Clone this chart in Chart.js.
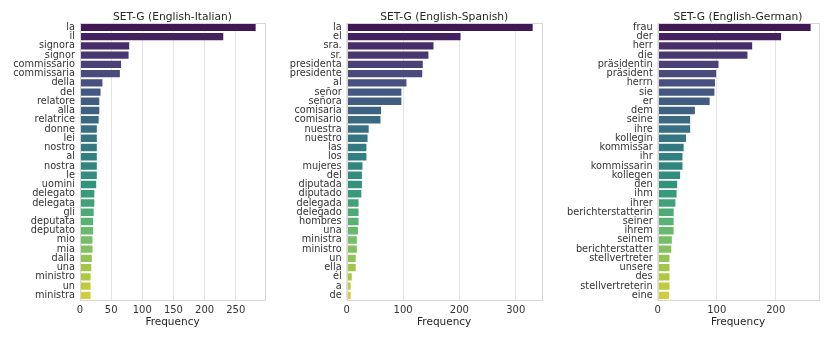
<!DOCTYPE html>
<html>
<head>
<meta charset="utf-8">
<script src="https://cdn.jsdelivr.net/npm/chart.js@4"></script>
<style>
  body { margin: 0; background: #fff; }
  #wrap { position: relative; width: 830px; height: 340px; }
  canvas { position: absolute; top: 0; }
</style>
</head>
<body>
<div id="wrap">
  <canvas id="itChart" style="left:0px"></canvas>
  <canvas id="esChart" style="left:276px"></canvas>
  <canvas id="deChart" style="left:550px"></canvas>
</div>
<script>
const itLabels = ["la","il","signora","signor","commissario","commissaria","della","del","relatore","alla","relatrice","donne","lei","nostro","al","nostra","le","uomini","delegato","delegata","gli","deputata","deputato","mio","mia","dalla","una","ministro","un","ministra"];
const itValues = [282,230,79,78,66,64,36,33,31,31,30,27,27,27,27,27,27,26,23,23,22,21,21,20,20,19,18,17,17,17];

const esLabels = ["la","el","sra.","sr.","presidenta","presidente","al","señor","señora","comisaria","comisario","nuestra","nuestro","las","los","mujeres","del","diputada","diputado","delegada","delegado","hombres","una","ministra","ministro","un","ella","él","a","de"];
const esValues = [330,202,154,145,135,134,106,97,97,61,60,39,37,35,35,28,27,27,26,21,21,21,20,18,18,16,16,9,7,7];

const deLabels = ["frau","der","herr","die","präsidentin","präsident","herrn","sie","er","dem","seine","ihre","kollegin","kommissar","ihr","kommissarin","kollegen","den","ihm","ihrer","berichterstatterin","seiner","ihrem","seinem","berichterstatter","stellvertreter","unsere","des","stellvertreterin","eine"];
const deValues = [259,209,160,152,103,99,97,96,88,63,55,55,48,44,42,42,38,33,32,30,27,27,27,24,23,20,20,20,20,19];

// viridis anchor colours, 0..1 in steps of 0.1
const viridis = ["#440154","#482475","#414487","#355f8d","#2a788e","#21918c","#22a884","#44bf70","#7ad151","#bddf26","#fde725"];

function hexRgb(h) {
  return [1,3,5].map(i => parseInt(h.substr(i,2),16)/255);
}
function desat(rgb, f) {
  // rgb -> hls, scale saturation, back
  const [r,g,b] = rgb;
  const mx = Math.max(r,g,b), mn = Math.min(r,g,b);
  const l = (mx+mn)/2;
  let h = 0, s = 0;
  if (mx !== mn) {
    const d = mx - mn;
    s = l > 0.5 ? d/(2-mx-mn) : d/(mx+mn);
    if (mx === r) h = ((g-b)/d) % 6;
    else if (mx === g) h = (b-r)/d + 2;
    else h = (r-g)/d + 4;
    h /= 6; if (h < 0) h += 1;
  }
  s *= f;
  const hue = t => {
    const q = l < 0.5 ? l*(1+s) : l+s-l*s, p = 2*l-q;
    if (t < 0) t += 1; if (t > 1) t -= 1;
    if (t < 1/6) return p+(q-p)*6*t;
    if (t < 1/2) return q;
    if (t < 2/3) return p+(q-p)*(2/3-t)*6;
    return p;
  };
  return [hue(h+1/3), hue(h), hue(h-1/3)];
}
function palette(n) {
  const out = [];
  for (let i = 1; i <= n; i++) {
    const t = i/(n+1) * 10;
    const k = Math.min(9, Math.floor(t)), f = t - k;
    const a = hexRgb(viridis[k]), b = hexRgb(viridis[k+1]);
    const c = desat(a.map((v,j) => v + (b[j]-v)*f), 0.75);
    out.push('rgb(' + c.map(v => Math.round(v*255)).join(',') + ')');
  }
  return out;
}

const frame = {
  id: 'frame',
  afterDraw(chart) {
    const a = chart.chartArea, ctx = chart.ctx;
    ctx.save();
    ctx.strokeStyle = '#d6d6d6';
    ctx.lineWidth = 1;
    ctx.strokeRect(Math.round(a.left)+0.5, Math.round(a.top)+0.5, Math.round(a.right-a.left), Math.round(a.bottom-a.top));
    ctx.restore();
  }
};

function makeChart(id, width, labels, values, title, xMax, step, yWidth, padRight) {
  const cv = document.getElementById(id);
  cv.width = width; cv.height = 340;
  cv.style.width = width + 'px'; cv.style.height = '340px';
  new Chart(cv, {
    type: 'bar',
    data: {
      labels: labels,
      datasets: [{
        data: values,
        backgroundColor: palette(labels.length),
        categoryPercentage: 0.8,
        barPercentage: 1
      }]
    },
    options: {
      indexAxis: 'y',
      responsive: false,
      animation: false,
      layout: { padding: { top: 11, right: padRight, bottom: 0, left: 0 } },
      plugins: {
        legend: { display: false },
        tooltip: { enabled: false },
        title: {
          display: true,
          text: title,
          fullSize: false,
          color: '#262626',
          font: { family: 'DejaVu Sans', size: 10.7, weight: 'normal', lineHeight: 1.1 },
          padding: { top: 0, bottom: 0 }
        }
      },
      scales: {
        x: {
          min: 0, max: xMax,
          afterBuildTicks: s => { s.ticks = s.ticks.filter(t => t.value % step === 0); },
          afterFit: s => { s.height = 40; },
          ticks: { stepSize: step, color: '#333', padding: 4, font: { family: 'DejaVu Sans', size: 10 } },
          grid: { color: '#e3e3e3', drawTicks: false },
          border: { display: false },
          title: { display: true, text: 'Frequency', color: '#262626', padding: { top: 0, bottom: 11 }, font: { family: 'DejaVu Sans', size: 10.5 } }
        },
        y: {
          afterFit: s => { s.width = yWidth; },
          ticks: { autoSkip: false, color: '#333', padding: 5, font: { family: 'DejaVu Sans', size: 9.75, lineHeight: 1 } },
          grid: { display: false, drawTicks: false },
          border: { display: false }
        }
      }
    },
    plugins: [frame]
  });
}

makeChart('itChart', 270, itLabels, itValues, 'SET-G (English-Italian)', 297, 50, 80, 5);
makeChart('esChart', 270, esLabels, esValues, 'SET-G (English-Spanish)', 346, 100, 70.7, 4.3);
makeChart('deChart', 280, deLabels, deValues, 'SET-G (English-German)', 272, 100, 107.7, 11.7);
</script>
</body>
</html>
